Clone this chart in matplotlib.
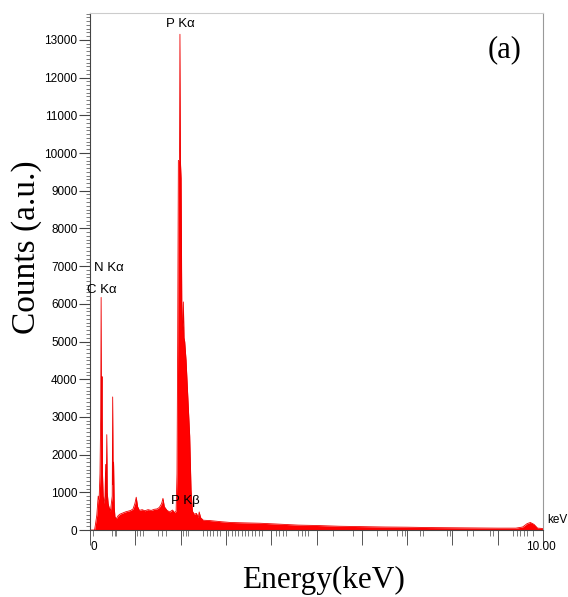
import matplotlib
matplotlib.use("Agg")
import matplotlib.pyplot as plt
from matplotlib.ticker import MultipleLocator, FixedLocator, NullFormatter

# EDS spectrum, energy in keV vs counts
energy = [0.00, 0.10, 0.12, 0.15, 0.18, 0.20, 0.22, 0.235, 0.245, 0.255,
          0.265, 0.275, 0.29, 0.31, 0.33, 0.345, 0.355, 0.37, 0.38, 0.40,
          0.42, 0.45, 0.49, 0.50, 0.51, 0.52, 0.535, 0.55, 0.58, 0.62,
          0.66, 0.72, 0.78, 0.84, 0.90, 0.95, 0.99, 1.02, 1.05, 1.09,
          1.15, 1.21, 1.28, 1.35, 1.42, 1.48, 1.53, 1.58, 1.61, 1.64,
          1.70, 1.76, 1.82, 1.87, 1.90, 1.92, 1.935, 1.95, 1.975, 1.985,
          1.995, 2.01, 2.025, 2.035, 2.05, 2.06, 2.075, 2.09, 2.12, 2.16,
          2.20, 2.23, 2.26, 2.30, 2.35, 2.39, 2.41, 2.44, 2.50, 2.65,
          2.90, 3.10, 3.40, 3.75, 4.10, 4.60, 5.00, 5.50, 6.00, 6.50,
          7.00, 7.50, 8.00, 8.50, 9.00, 9.40, 9.55, 9.65, 9.72, 9.80,
          9.88, 10.00]
counts = [0, 0, 150, 400, 900, 800, 1500, 3000, 6170, 2500,
          4070, 1500, 900, 700, 900, 1740, 800, 2530, 1000, 700,
          600, 500, 900, 3530, 1200, 1800, 600, 350, 300, 380,
          420, 450, 480, 500, 520, 560, 700, 870, 620, 520,
          540, 510, 540, 520, 550, 560, 600, 700, 840, 620,
          520, 480, 530, 460, 500, 1500, 5000, 9800, 9800, 13150,
          9800, 9330, 6100, 5300, 5500, 6050, 5100, 5000, 4500, 3500,
          2500, 1060, 500, 420, 440, 330, 480, 330, 260, 250,
          220, 200, 190, 180, 160, 130, 120, 100, 90, 80,
          75, 65, 60, 55, 50, 50, 80, 170, 200, 150,
          50, 40]

# element line markers along the energy axis
line_marks = [0.07, 0.48, 0.55, 0.57, 1.03, 1.10, 1.16, 1.51, 1.58, 1.68,
              2.06, 2.12, 2.17, 2.50, 2.58, 2.65, 2.72, 2.80, 2.87, 3.05,
              3.13, 3.20, 3.27, 3.35, 3.42, 3.49, 3.57, 3.64, 3.72, 3.79,
              4.11, 4.18, 4.25, 4.33, 4.60, 4.67, 4.75, 4.82, 5.37, 5.81,
              6.33, 6.55, 6.77, 6.88, 6.95, 7.28, 7.36, 7.87, 7.95, 8.32,
              8.46, 8.83, 8.90, 9.34, 9.42, 9.49, 9.57, 9.64, 9.79]

peak_labels = [("P K\u03b1", 1.99, 13250), ("N K\u03b1", 0.41, 6800),
               ("C K\u03b1", 0.26, 6200), ("P K\u03b2", 2.10, 600)]

sans = ["Liberation Sans", "DejaVu Sans"]
serif = ["Liberation Serif", "DejaVu Serif"]

fig = plt.figure(figsize=(5.68, 5.97), dpi=100)
ax = fig.add_axes([0.1585, 0.1122, 0.7975, 0.8658])

ax.fill_between(energy, counts, 0, color="#ff0000", linewidth=0)
ax.plot(energy, counts, color="#ee0000", linewidth=0.6)

ax.set_xlim(0, 10)
ax.set_ylim(0, 13710)

ax.spines["left"].set_color("#444444")
ax.spines["bottom"].set_color("#444444")
ax.spines["top"].set_color("#cccccc")
ax.spines["right"].set_color("#999999")
for s in ax.spines.values():
    s.set_linewidth(0.8)

ax.yaxis.set_major_locator(MultipleLocator(1000))
ax.yaxis.set_minor_locator(MultipleLocator(100))
ax.tick_params(axis="y", which="major", length=8, width=0.8, color="#444444",
               labelsize=8.5, pad=1)
ax.tick_params(axis="y", which="minor", length=3, width=0.6, color="#666666")
for lab in ax.get_yticklabels():
    lab.set_family(sans)

ax.xaxis.set_major_locator(FixedLocator(range(0, 11)))
ax.xaxis.set_major_formatter(NullFormatter())
ax.xaxis.set_minor_locator(FixedLocator(line_marks))
ax.tick_params(axis="x", which="major", length=11, width=0.7, color="#555555")
ax.tick_params(axis="x", which="minor", length=4, width=0.6, color="#666666")

ax.text(0.0, -0.022, "0", transform=ax.transAxes, ha="left", va="top",
        fontsize=8.5, family=sans)
ax.text(0.995, -0.022, "10.00", transform=ax.transAxes, ha="center", va="top",
        fontsize=8.5, family=sans)
ax.text(1.01, 0.02, "keV", transform=ax.transAxes, ha="left", va="center",
        fontsize=8.5, family=sans)

for name, x, y in peak_labels:
    ax.text(x, y, name, ha="center", va="bottom", fontsize=9.5, family=sans)

ax.text(0.915, 0.93, "(a)", transform=ax.transAxes, ha="center", va="center",
        fontsize=22, family=serif)

fig.text(0.569, 0.015, "Energy(keV)", ha="center", va="baseline",
         fontsize=22.5, family=serif)
fig.text(0.047, 0.586, "Counts (a.u.)", ha="center", va="center",
         rotation=90, fontsize=24, family=serif)

fig.savefig("out.png", dpi=100)
